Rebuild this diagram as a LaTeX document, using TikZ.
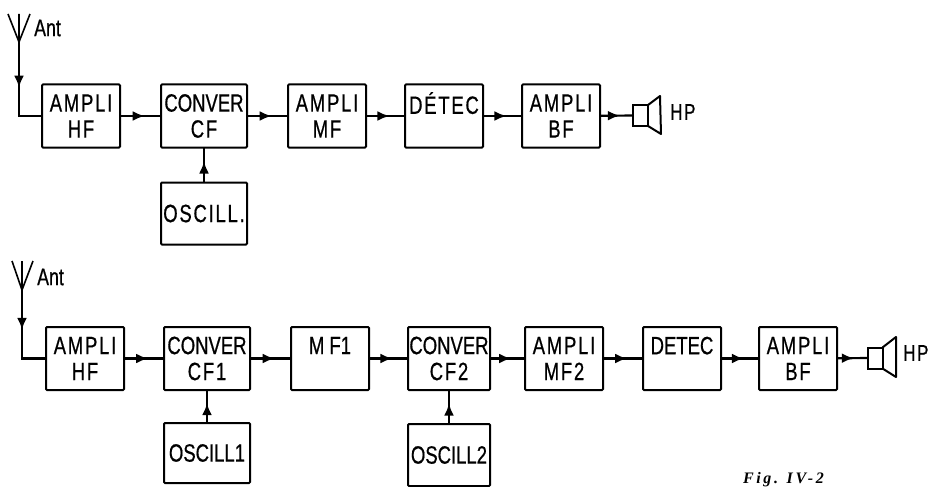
\documentclass[tikz,border=0pt]{standalone}
\usepackage{fontspec}
\setmainfont{Liberation Sans}
\newfontfamily\blockfont[FakeStretch=0.74,FakeBold=0.6]{Liberation Sans}
\newfontfamily\spacedfont[FakeStretch=0.74,FakeBold=0.6,LetterSpace=7]{Liberation Sans}
\newfontfamily\figfont[LetterSpace=16]{Liberation Serif}
\usetikzlibrary{
    arrows.meta,
    positioning,
    decorations.markings
}

\begin{document}
\begin{tikzpicture}[
        x=1pt,
        y=-1pt,
        block/.style={
            rectangle,
            rounded corners=1pt,
            draw,
            line width=2pt,
            outer sep=0pt,
            align=center,
            inner sep=0pt,
            minimum width=78pt,
            minimum height=63pt,
            font=\fontsize{25}{26}\selectfont\blockfont
        },
        wideblock/.style={
            block,
            minimum width=86pt
        },
        oscblock/.style={
            block,
            minimum width=86pt,
            minimum height=62pt
        },
        flow/.style={
            line width=2.2pt,
            postaction={decorate},
            decoration={
                markings,
                mark=at position #1 with {\arrow{Latex[length=12pt,width=10pt]}}
            }
        },
        flow/.default=0.6,
        aerial/.style={
            line width=1.6pt
        },
        cone/.style={
            draw,
            line width=2pt,
            outer sep=0pt,
            inner sep=0pt,
            minimum width=15pt,
            minimum height=21pt
        },
        tag/.style={
            inner sep=0pt,
            font=\fontsize{24}{25}\selectfont\blockfont
        }
    ]
    \useasboundingbox (0,0) rectangle (930,487);

    % upper chain
    \node[block] (hfa) at (81,116) {{\spacedfont AMPLI}\\{\spacedfont HF}};
    \node[wideblock, right=41pt of hfa] (cva) {CONVER\\{\spacedfont CF}};
    \node[block, right=41pt of cva] (mfa) {{\spacedfont AMPLI}\\{\spacedfont MF}};
    \node[block, right=39pt of mfa] (deta) {{\spacedfont DÉTEC}\\\mbox{}};
    \node[block, right=39pt of deta] (bfa) {{\spacedfont AMPLI}\\{\spacedfont BF}};
    \node[oscblock, below=35pt of cva] (osca) {{\spacedfont OSCILL.}};

    \draw[flow] (hfa) -- (cva);
    \draw[flow] (cva) -- (mfa);
    \draw[flow] (mfa) -- (deta);
    \draw[flow] (deta) -- (bfa);
    \draw[flow] (osca) -- (cva);

    % lower chain
    \node[block] (hfb) at (85,358.5) {{\spacedfont AMPLI}\\{\spacedfont HF}};
    \node[wideblock, right=40pt of hfb] (cvb) {CONVER\\{\spacedfont CF1}};
    \node[block, right=41pt of cvb] (mfb) {M F1\\\mbox{}};
    \node[wideblock, right=39pt of mfb, minimum width=82pt] (cvc) {CONVER\\{\spacedfont CF2}};
    \node[block, right=35pt of cvc] (amb) {{\spacedfont AMPLI}\\{\spacedfont MF2}};
    \node[block, right=40pt of amb] (detb) {DETEC\\\mbox{}};
    \node[block, right=38pt of detb] (bfb) {{\spacedfont AMPLI}\\{\spacedfont BF}};
    \node[oscblock, below=33pt of cvb, minimum height=60pt] (oscb) {OSCILL1};
    \node[oscblock, below=34pt of cvc, minimum width=82pt] (oscc) {OSCILL2};

    \draw[flow] (hfb) -- (cvb);
    \draw[flow] (cvb) -- (mfb);
    \draw[flow] (mfb) -- (cvc);
    \draw[flow] (cvc) -- (amb);
    \draw[flow] (amb) -- (detb);
    \draw[flow] (detb) -- (bfb);
    \draw[flow] (oscb) -- (cvb);
    \draw[flow] (oscc) -- (cvc);

    % aerials
    \coordinate (anta) at (19,42);
    \coordinate (antb) at (22,290);
    \draw[aerial] (8,14) -- (anta) -- (30,14) (anta) -- (19,14);
    \draw[aerial] (12,261) -- (antb) -- (33,261) (antb) -- (22,261);
    \draw[flow=0.47] (anta) |- (hfa);
    \draw[flow=0.43] (antb) |- (hfb);
    \node[tag, anchor=west] (anttxa) at (34,28) {Ant};
    \node[tag, anchor=west] (anttxb) at (37,277) {Ant};

    % loudspeakers
    \node[cone] (boxa) at (640.5,115.5) {};
    \draw[line width=2pt, line join=round] (boxa.north east) -- (660,96) -- (661,134) -- (boxa.south east);
    \node[cone] (boxb) at (875,358) {};
    \draw[line width=2pt, line join=round] (boxb.north east) -- (896,337) -- (896,377) -- (boxb.south east);
    \draw[flow=0.6] (bfa) -- (boxa);
    \draw[flow=0.55] (bfb) -- (boxb);
    \node[tag, anchor=west, font=\fontsize{23}{24}\selectfont\spacedfont] (hpa) at (670,112) {HP};
    \node[tag, anchor=west, font=\fontsize{23}{24}\selectfont\spacedfont] (hpb) at (903,353) {HP};

    \node[inner sep=0pt, anchor=base west, font=\fontsize{16}{17}\selectfont\figfont\bfseries\itshape] (figtx) at (743,483) {Fig. IV-2};
\end{tikzpicture}
\end{document}
